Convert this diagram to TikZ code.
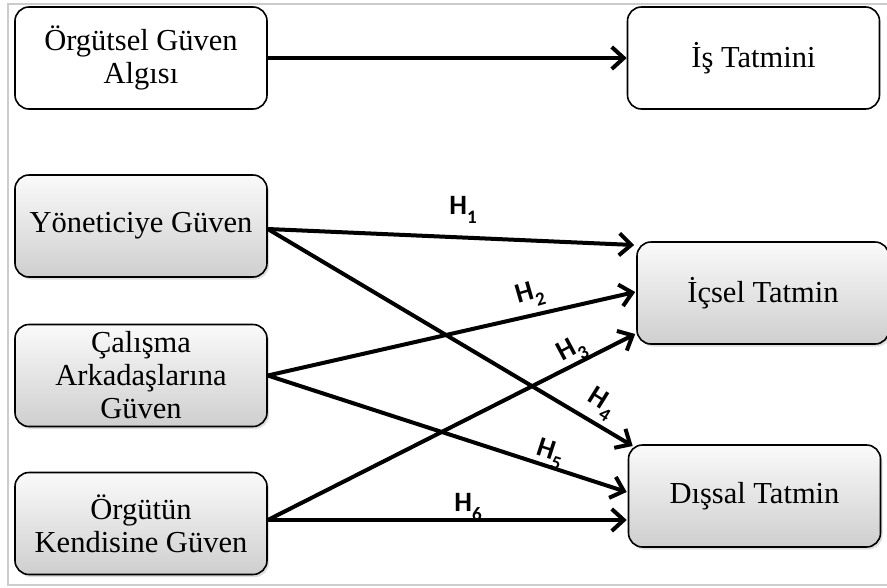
\documentclass[tikz,border=0pt]{standalone}
\usepackage{fontspec}
\setmainfont{Liberation Serif}
\newfontfamily\labfont{Carlito}
\usetikzlibrary{arrows.meta,shadows}
\newcommand\hsub[1]{\raisebox{-0.3em}{\fontsize{19}{19}\selectfont #1}}
\begin{document}
\begin{tikzpicture}[x=1pt,y=-1pt,
  box/.style={draw=black, line width=1.6pt, rounded corners=14pt,
    minimum width=252pt, minimum height=102pt, align=center,
    font=\fontsize{30.5}{33}\selectfont, inner sep=0pt},
  whitebox/.style={box, fill=white},
  graybox/.style={box, top color=gray!4, bottom color=gray!38,
    drop shadow={opacity=0.25, shadow xshift=2pt, shadow yshift=-2.5pt}},
  conn/.style={line width=4pt, -{Straight Barb[length=12pt,width=22pt]}},
  hlab/.style={font=\labfont\bfseries\fontsize{28}{28}\selectfont, inner sep=0pt},
  framec/.style={draw=black!20, line width=2pt}
]
\useasboundingbox (0,0) rectangle (887,587);
\fill[white] (0,0) rectangle (887,587);
\draw[framec] (900,4) -- (8,4) -- (8,585) -- (900,585);

\node[whitebox] (org) at (141,58) {Örgütsel Güven\\Algısı};
\node[whitebox] (is) at (753.5,58) {İş Tatmini};
\node[graybox] (yon) at (141,226) {Yöneticiye Güven};
\node[graybox] (cal) at (141,375.5) {Çalışma\\Arkadaşlarına\\Güven};
\node[graybox] (kend) at (141,523.5) {Örgütün\\Kendisine Güven};
\node[graybox] (ic) at (763,293) {İçsel Tatmin};
\node[graybox] (dis) at (754.5,496) {Dışsal Tatmin};

\draw[conn] (org.east) -- (is.west);
\draw[conn] ([yshift=-3pt]yon.east) -- ([xshift=-2pt,yshift=48pt]ic.west);
\draw[conn] ([yshift=-3pt]yon.east) -- ([xshift=5pt,yshift=50pt]dis.west);
\draw[conn] (cal.east) -- ([xshift=-1pt,yshift=1pt]ic.west);
\draw[conn] (cal.east) -- ([xshift=-1pt,yshift=4pt]dis.west);
\draw[conn] ([yshift=3.5pt]kend.east) -- ([xshift=-1pt,yshift=-41pt]ic.west);
\draw[conn] ([yshift=3.5pt]kend.east) -- ([xshift=-1pt,yshift=-24pt]dis.west);

\node[hlab] (h1) at (463,210) {H\hsub{1}};
\node[hlab, rotate=16] (h2) at (530,295) {H\hsub{2}};
\node[hlab, rotate=28] (h3) at (572,351) {H\hsub{3}};
\node[hlab, rotate=-32] (h4) at (601,404) {H\hsub{4}};
\node[hlab, rotate=-18] (h5) at (550,454) {H\hsub{5}};
\node[hlab] (h6) at (468,507) {H\hsub{6}};
\end{tikzpicture}
\end{document}
